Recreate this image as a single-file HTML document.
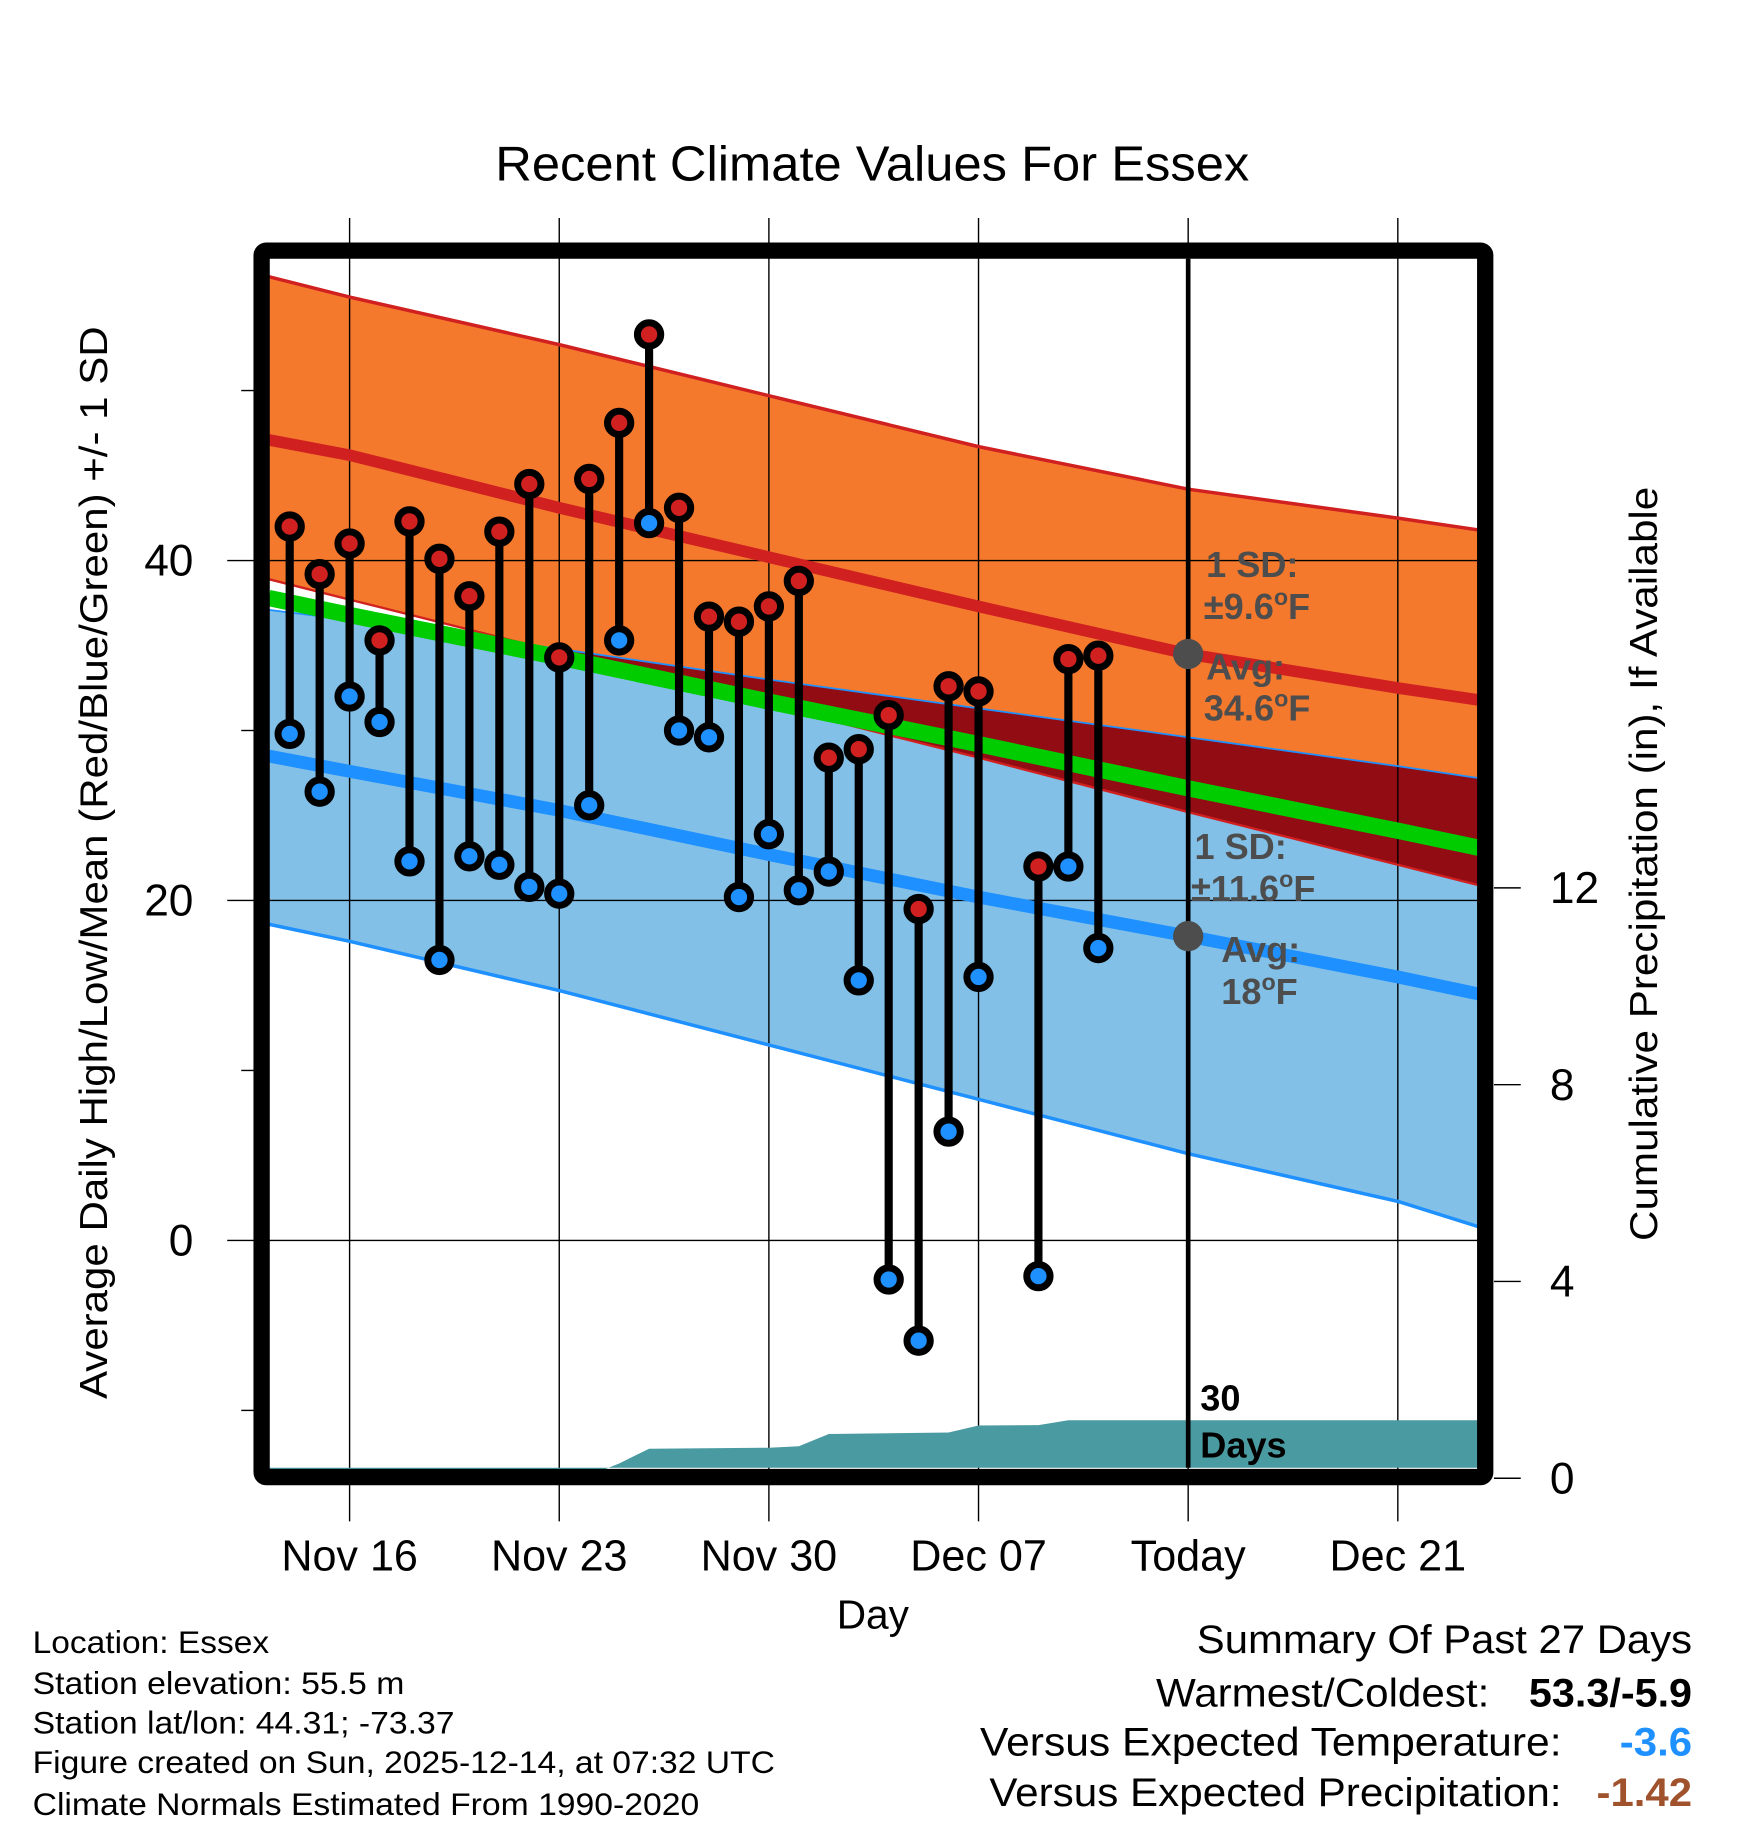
<!DOCTYPE html>
<html><head><meta charset="utf-8"><style>
html,body{margin:0;padding:0;background:#fff}
svg{display:block;font-family:"Liberation Sans",sans-serif}
</style></head><body>
<svg id="chart" xmlns="http://www.w3.org/2000/svg" width="1748" height="1828" viewBox="0 0 1500 1568" preserveAspectRatio="none">
<g id="bands"></g>
<g id="grid"></g>
<g id="lines"></g>
<g id="precip"></g>
<g id="marks"></g>
<g id="frame"></g>
<g id="texts">
<text x="425" y="155" font-size="42" textLength="647" lengthAdjust="spacingAndGlyphs">Recent Climate Values For Essex</text>
<text x="718" y="1397" font-size="35" textLength="62" lengthAdjust="spacingAndGlyphs">Day</text>
<text transform="translate(92,740) rotate(-90)" font-size="33" text-anchor="middle" textLength="920" lengthAdjust="spacingAndGlyphs">Average Daily High/Low/Mean (Red/Blue/Green) +/- 1 SD</text>
<text transform="translate(1422,741) rotate(-90)" font-size="33" text-anchor="middle" textLength="647" lengthAdjust="spacingAndGlyphs">Cumulative Precipitation (in), If Available</text>
<g fill="#4d4d4d" font-weight="bold" font-size="31">
<text x="1035" y="495">1 SD:</text>
<text x="1033" y="531">±9.6<tspan font-size="20" dy="-12">o</tspan><tspan dy="12">F</tspan></text>
<text x="1035" y="583">Avg:</text>
<text x="1033" y="618">34.6<tspan font-size="20" dy="-12">o</tspan><tspan dy="12">F</tspan></text>
<text x="1025" y="737">1 SD:</text>
<text x="1022" y="773">±11.6<tspan font-size="20" dy="-12">o</tspan><tspan dy="12">F</tspan></text>
<text x="1048" y="825">Avg:</text>
<text x="1048" y="861">18<tspan font-size="20" dy="-12">o</tspan><tspan dy="12">F</tspan></text>
</g>
<text x="1030" y="1210" font-size="31" font-weight="bold">30</text>
<text x="1030" y="1250" font-size="31" font-weight="bold">Days</text>
<g font-size="27">
<text x="28" y="1418" textLength="203" lengthAdjust="spacingAndGlyphs">Location: Essex</text>
<text x="28" y="1453" textLength="319" lengthAdjust="spacingAndGlyphs">Station elevation: 55.5 m</text>
<text x="28" y="1487" textLength="362" lengthAdjust="spacingAndGlyphs">Station lat/lon: 44.31; -73.37</text>
<text x="28" y="1521" textLength="637" lengthAdjust="spacingAndGlyphs">Figure created on Sun, 2025-12-14, at 07:32 UTC</text>
<text x="28" y="1557" textLength="572" lengthAdjust="spacingAndGlyphs">Climate Normals Estimated From 1990-2020</text>
</g>
<g font-size="34">
<text x="1027" y="1418" textLength="425" lengthAdjust="spacingAndGlyphs">Summary Of Past 27 Days</text>
<text x="992" y="1464" textLength="286" lengthAdjust="spacingAndGlyphs">Warmest/Coldest:</text>
<text x="1312" y="1464" font-weight="bold" textLength="140" lengthAdjust="spacingAndGlyphs">53.3/-5.9</text>
<text x="841" y="1506" textLength="499" lengthAdjust="spacingAndGlyphs">Versus Expected Temperature:</text>
<text x="1390" y="1506" font-weight="bold" fill="#1e90ff" textLength="62" lengthAdjust="spacingAndGlyphs">-3.6</text>
<text x="849" y="1549" textLength="491" lengthAdjust="spacingAndGlyphs">Versus Expected Precipitation:</text>
<text x="1370" y="1549" font-weight="bold" fill="#a0522d" textLength="82" lengthAdjust="spacingAndGlyphs">-1.42</text>
</g>
</g>
</svg>
<script>
// ---- data ----
const normDays = [-2.7, 0, 7, 14, 21, 28, 35, 37.7];
const highUpper = [56.7, 55.5, 52.7, 49.7, 46.7, 44.2, 42.5, 41.8];
const highAvg = [47.1, 46.2, 43.1, 40.2, 37.3, 34.5, 32.5, 31.8];
const highLower = [38.9, 37.7, 34.6, 31.5, 28.4, 25.2, 22.1, 20.9];
const meanAvg = [37.8, 36.8, 34.3, 31.7, 29.2, 26.6, 24.1, 23.1];
const lowUpper = [37.1, 36.5, 34.8, 33.0, 31.3, 29.6, 27.9, 27.2];
const lowAvg = [28.5, 27.6, 25.3, 22.7, 20.2, 17.9, 15.5, 14.5];
const lowLower = [18.6, 17.6, 14.7, 11.5, 8.3, 5.1, 2.3, 0.8];
const obsDays = [-2,-1,0,1,2,3,4,5,6,7,8,9,10,11,12,13,14,15,16,17,18,19,20,21,23,24,25];
const obsHigh = [42.0,39.2,41.0,35.3,42.3,40.1,37.9,41.7,44.5,34.3,44.8,48.1,53.3,43.1,36.7,36.4,37.3,38.8,28.4,28.9,30.9,19.5,32.6,32.3,22.0,34.2,34.4];
const obsLow = [29.8,26.4,32.0,30.5,22.3,16.5,22.6,22.1,20.8,20.4,25.6,35.3,42.2,30.0,29.6,20.2,23.9,20.6,21.7,15.3,-2.3,-5.9,6.4,15.5,-2.1,22.0,17.2];
const precipDays = [-2.7, 0, 7, 8, 9, 10, 14, 15, 16, 20, 21, 23, 24, 37.7];
const precipVals = [0.0, 0.01, 0.03, 0.06, 0.3, 0.6, 0.62, 0.65, 0.9, 0.93, 1.07, 1.08, 1.18, 1.18];
const xTickDays = [0, 7, 14, 21, 28, 35];
const xTickLabels = ["Nov 16","Nov 23","Nov 30","Dec 07","Today","Dec 21"];
const yTicks = [0, 20, 40];
const yMinor = [-10, 10, 30, 50];
const y2Ticks = [0, 4, 8, 12];
const todayDay = 28;
// ---- axes ----
const X0=231, X1=1268, Y0=222, Y1=1259;
const x = d => 300 + 25.7*d;
const y = t => 1064 - 14.58*t;
const y2 = p => 1268 - 42.2*p;
const NS='http://www.w3.org/2000/svg';
function mk(tag, parent, attrs){const e=document.createElementNS(NS,tag);for(const k in attrs)e.setAttribute(k,attrs[k]);parent.appendChild(e);return e;}
const pts = arr => arr.map((v,i)=>x(normDays[i]).toFixed(1)+','+y(v).toFixed(1));
const clampX = v => Math.max(X0, Math.min(X1, v));
function ptsC(arr){return arr.map((v,i)=>clampX(x(normDays[i])).toFixed(1)+','+y(v).toFixed(1));}
const svg=document.getElementById('chart');
const bands=document.getElementById('bands');
const defs=mk('defs',svg,{});
const cp=mk('clipPath',defs,{id:'plotclip'});
mk('rect',cp,{x:X0,y:Y0,width:X1-X0,height:Y1-Y0});
const cp2=mk('clipPath',defs,{id:'orangeclip'});
mk('polygon',cp2,{points:ptsC(highUpper).concat(ptsC(highLower).reverse()).join(' ')});
bands.setAttribute('clip-path','url(#plotclip)');
let e;
e=mk('polygon',bands,{points:ptsC(highUpper).concat(ptsC(highLower).reverse()).join(' '),fill:'#f5792d'});


e=mk('polygon',bands,{points:ptsC(lowUpper).concat(ptsC(lowLower).reverse()).join(' '),fill:'#82c0e8'});


e=mk('polygon',bands,{points:ptsC(lowUpper).concat(ptsC(lowLower).reverse()).join(' '),fill:'#920c14','clip-path':'url(#orangeclip)'});


const grid=document.getElementById('grid');
xTickDays.forEach((d,i)=>{
  e=mk('line',grid,{x1:x(d),x2:x(d),y1:187,y2:1305,stroke:'#000','stroke-width':1.2});
  
  
  e=mk('text',grid,{x:x(d),y:1347,'font-size':37,'text-anchor':'middle'});
  e.textContent=xTickLabels[i];
  
  
});
yTicks.forEach(t=>{
  e=mk('line',grid,{x1:195,x2:X1,y1:y(t),y2:y(t),stroke:'#000','stroke-width':1.2});
  
  
  e=mk('text',grid,{x:166,y:y(t)+13,'font-size':38,'text-anchor':'end'});
  e.textContent=t;
  
  
});
yMinor.forEach(t=>{
  e=mk('line',grid,{x1:207,x2:218,y1:y(t),y2:y(t),stroke:'#000','stroke-width':1.2});
  
  
});
y2Ticks.forEach(p=>{
  e=mk('line',grid,{x1:1282,x2:1305,y1:y2(p),y2:y2(p),stroke:'#000','stroke-width':1.2});
  
  
  e=mk('text',grid,{x:1330,y:y2(p)+13,'font-size':38,'text-anchor':'start'});
  e.textContent=p;
  
  
});
const lines=document.getElementById('lines');
lines.setAttribute('clip-path','url(#plotclip)');
function pl(arr,color,w,name){
  const p=mk('polyline',lines,{points:pts(arr).join(' '),fill:'none',stroke:color,'stroke-width':w});
  
  
}
pl(highLower,'#d02020',2,'high-lower-sd-line');
pl(lowUpper,'#1e90ff',1.5,'low-upper-sd-line');
pl(meanAvg,'#00cc00',14,'mean-line');
pl(highUpper,'#d02020',3,'high-upper-sd-line');
pl(lowLower,'#1e90ff',3,'low-lower-sd-line');
pl(highAvg,'#d02020',10,'average-high-line');
pl(lowAvg,'#1e90ff',11,'average-low-line');
const pg=document.getElementById('precip');
const pp=precipDays.map((d,i)=>clampX(x(d)).toFixed(1)+','+y2(precipVals[i]).toFixed(1));
e=mk('polygon',pg,{points:pp.join(' ')+' '+X1+','+Y1+' '+X0+','+Y1,fill:'#4a9aa2'});


e=mk('line',pg,{x1:x(todayDay),x2:x(todayDay),y1:Y0,y2:Y1,stroke:'#000','stroke-width':4});


[highAvg,lowAvg].forEach((arr,k)=>{
  e=mk('circle',pg,{cx:x(todayDay),cy:y(arr[5]),r:13,fill:'#4d4d4d'});
  
  
});
const mg=document.getElementById('marks');
obsDays.forEach((d,i)=>{
  e=mk('line',mg,{x1:x(d),x2:x(d),y1:y(obsHigh[i]),y2:y(obsLow[i]),stroke:'#000','stroke-width':7});
  
  
});
obsDays.forEach((d,i)=>{
  e=mk('circle',mg,{cx:x(d),cy:y(obsHigh[i]),r:10,fill:'#d02020',stroke:'#000','stroke-width':6});
  
  
  e=mk('circle',mg,{cx:x(d),cy:y(obsLow[i]),r:10,fill:'#1e90ff',stroke:'#000','stroke-width':6});
  
  
});
const fr=document.getElementById('frame');
e=mk('rect',fr,{x:224.5,y:215,width:1050,height:1052,fill:'none',stroke:'#000','stroke-width':14,rx:4});


svg.appendChild(document.getElementById('texts'));
</script>
</body></html>
